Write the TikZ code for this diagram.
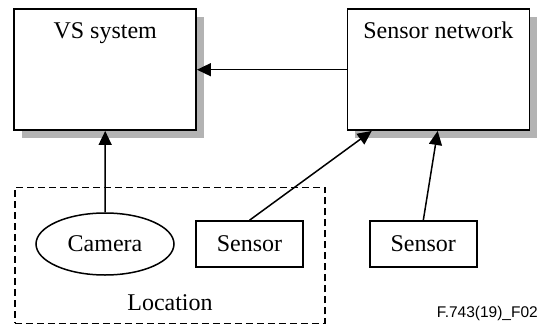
\documentclass[tikz,border=0pt]{standalone}
\usepackage{fontspec}
\setmainfont{Liberation Serif}
\newfontfamily\figsans{Liberation Sans}
\usetikzlibrary{arrows.meta,shapes.geometric,shadows}
\definecolor{shadowgray}{HTML}{B3B3B3}
\tikzset{
  bigbox/.style={draw, line width=1.5pt, fill=white, minimum width=182pt, minimum height=121pt, inner sep=0pt,
    drop shadow={shadow xshift=7.5pt, shadow yshift=-8pt, fill=shadowgray, opacity=1}},
  smallbox/.style={draw, line width=1.5pt, minimum width=107pt, minimum height=46pt, inner sep=0pt, font=\fontsize{24}{28}\selectfont},
  camshape/.style={draw, ellipse, line width=1.5pt, minimum width=138pt, minimum height=62pt, inner sep=0pt, font=\fontsize{24}{28}\selectfont},
  title/.style={anchor=base, inner sep=0pt, font=\fontsize{24}{28}\selectfont},
  arr/.style={line width=1.5pt, -{Triangle[length=14pt,width=13pt]}},
  locbox/.style={draw, dashed, dash pattern=on 7pt off 4pt, line width=1.3pt, minimum width=310pt, minimum height=136pt, inner sep=0pt}
}
\begin{document}
\begin{tikzpicture}[x=1pt,y=-1pt]
\useasboundingbox (0,0) rectangle (539,327);
\node[bigbox] (vs) at (105.2,69.7) {};
\node[bigbox] (sn) at (438.3,69.7) {};
\node[title] (vst) at (105.2,38) {VS system};
\node[title] (snt) at (438.3,38) {Sensor network};
\node[locbox] (loc) at (169.9,255.3) {};
\node[title] (loct) at (170,310) {Location};
\node[camshape] (cam) at (105,244) {Camera};
\node[smallbox] (s1) at (249.5,244) {Sensor};
\node[smallbox] (s2) at (423.3,244) {Sensor};
\node[anchor=base east, inner sep=0pt, font=\figsans\fontsize{15.5}{18}\selectfont] (fig) at (538,317.7) {F.743(19)\_F02};
\draw[arr] (sn.west) -- (vs.east);
\draw[arr] (cam.north) -- (vs.south);
\draw[arr] (s1.north) -- ([xshift=-66.6pt]sn.south);
\draw[arr] (s2.north) -- ([xshift=-0.6pt]sn.south);
\end{tikzpicture}
\end{document}
